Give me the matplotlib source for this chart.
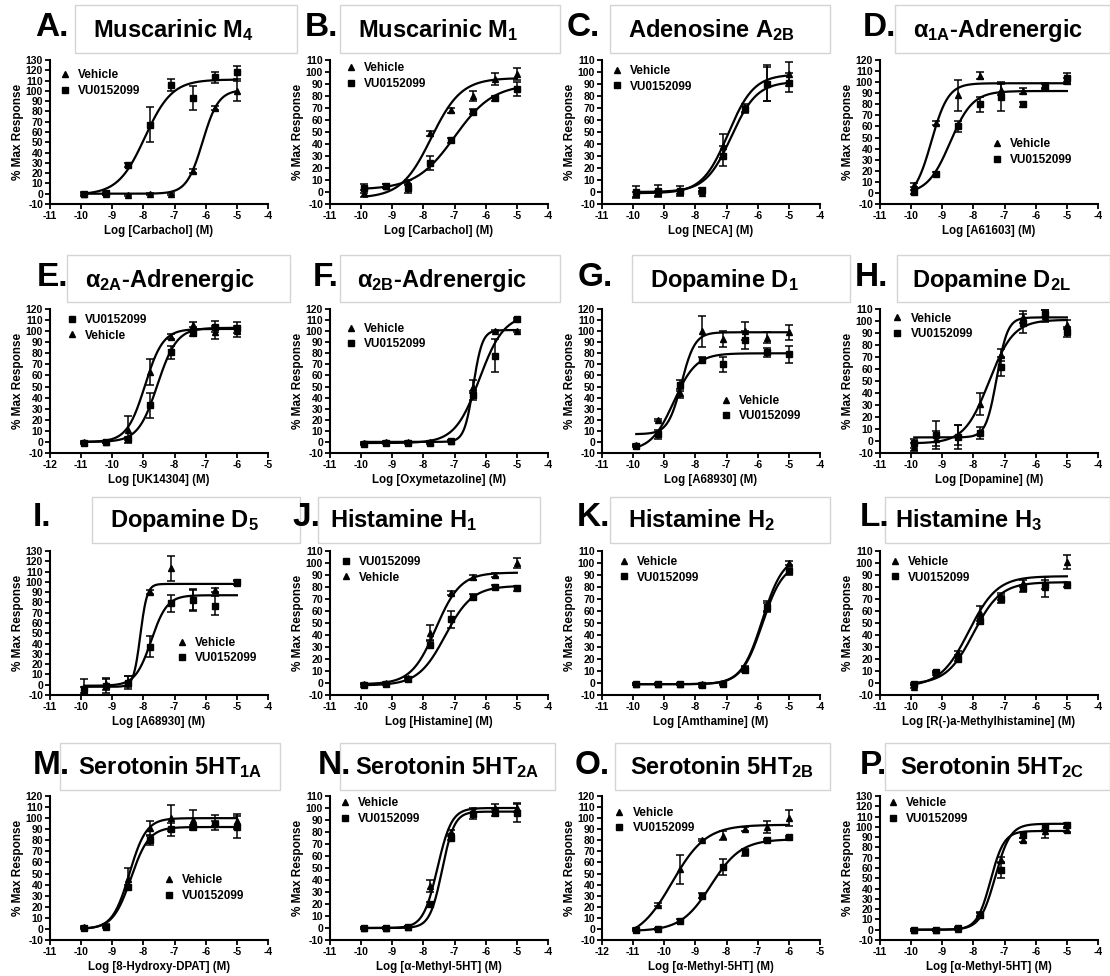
import numpy as np
import matplotlib
matplotlib.use("Agg")
import matplotlib.pyplot as plt
from matplotlib.patches import Rectangle

plt.rcParams['font.family'] = ['Liberation Sans', 'DejaVu Sans']
plt.rcParams['font.weight'] = 'bold'
plt.rcParams['axes.unicode_minus'] = False
plt.rcParams['mathtext.fontset'] = 'custom'
plt.rcParams['mathtext.rm'] = 'Liberation Sans:bold'
plt.rcParams['mathtext.bf'] = 'Liberation Sans:bold'
plt.rcParams['mathtext.it'] = 'Liberation Sans:bold'

# concentrations (log M)
x_std = [-9.9, -9.2, -8.5, -7.8, -7.1, -6.4, -5.7, -5.0]
x_low = [-10.9, -10.2, -9.5, -8.8, -8.1, -7.4, -6.7, -6.0]

# fit params: bottom, top, logEC50, hill
A_veh = [0, 0, -1, 0, 0, 22, 83, 100]
A_veh_err = [1, 1, 1, 1, 1, 2, 2, 10]
A_vu = [0, 1, 28, 67, 106, 93, 113, 118]
A_vu_err = [2, 2, 2, 17, 6, 12, 5, 6]
A_fit_veh = (0, 101, -6.1, 1.7)
A_fit_vu = (-1, 111, -7.95, 1.0)

B_veh = [-1, 5, 8, 49, 68, 80, 94, 98]
B_veh_err = [3, 2, 2, 2, 2, 4, 5, 5]
B_vu = [3, 5, 3, 24, 43, 67, 78, 86]
B_vu_err = [4, 2, 4, 6, 2, 2, 2, 6]
B_fit_veh = (-5, 95, -7.75, 0.9)
B_fit_vu = (2, 90, -7.0, 0.7)

C_veh = [-2, -1, 0, -1, 38, 70, 91, 98]
C_veh_err = [2, 2, 2, 1, 10, 3, 15, 10]
C_vu = [0, 1, 1, 2, 30, 69, 90, 91]
C_vu_err = [5, 5, 4, 1, 8, 3, 14, 8]
C_fit_veh = (-1, 98, -6.95, 1.05)
C_fit_vu = (0, 92, -6.85, 1.05)

D_veh = [7, 63, 88, 106, 93, 92, 97, 101]
D_veh_err = [2, 2, 14, 3, 5, 3, 2, 3]
D_vu = [1, 17, 60, 80, 87, 80, 96, 104]
D_vu_err = [2, 2, 5, 7, 13, 2, 2, 4]
D_fit_veh = (-6, 99, -9.35, 1.6)
D_fit_vu = (-1, 92, -8.75, 1.2)

E_veh = [0, 0, 11, 63, 95, 106, 99, 100]
E_veh_err = [1, 1, 12, 12, 2, 2, 6, 5]
E_vu = [-1, 0, 3, 33, 81, 98, 104, 103]
E_vu_err = [1, 1, 1, 11, 6, 2, 5, 5]
E_fit_veh = (0, 102, -8.95, 1.5)
E_fit_vu = (0, 103, -8.55, 1.4)

F_veh = [-1, 0, 0, 0, 1, 50, 100, 100]
F_veh_err = [1, 1, 1, 1, 1, 6, 1, 1]
F_vu = [-2, -1, -1, -1, 1, 42, 78, 111]
F_vu_err = [1, 1, 1, 1, 1, 4, 15, 1]
F_fit_veh = (0, 101, -6.4, 3.0)
F_fit_vu = (-1, 115, -6.2, 1.1)

G_veh = [-3, 20, 44, 100, 93, 100, 94, 99]
G_veh_err = [1, 1, 4, 14, 7, 8, 5, 7]
G_vu = [-4, 7, 51, 74, 70, 92, 81, 79]
G_vu_err = [1, 4, 5, 3, 7, 8, 4, 8]
G_fit_veh = (7, 99, -8.45, 2.0)
G_fit_vu = (-8, 80, -8.7, 1.2)

H_veh = [-5, 2, 5, 31, 72, 103, 104, 97]
H_veh_err = [3, 6, 8, 9, 5, 5, 5, 4]
H_vu = [-2, 5, 3, 7, 62, 98, 106, 91]
H_vu_err = [4, 12, 10, 5, 8, 8, 3, 4]
H_fit_veh = (-2, 101, -7.5, 1.1)
H_fit_vu = (3, 103, -7.25, 2.5)

I_veh = [-5, 1, 3, 90, 113, 83, 92, 99]
I_veh_err = [3, 6, 5, 2, 12, 10, 2, 2]
I_vu = [-4, -1, 2, 37, 79, 82, 77, 100]
I_vu_err = [10, 7, 6, 10, 8, 10, 9, 2]
I_fit_veh = (-2, 98, -8.1, 4.0)
I_fit_vu = (-1, 87, -7.75, 1.7)

J_veh = [-1, 0, 4, 42, 75, 88, 90, 100]
J_veh_err = [1, 1, 1, 6, 2, 2, 2, 4]
J_vu = [-2, -1, 3, 32, 53, 72, 80, 79]
J_vu_err = [1, 1, 1, 3, 7, 2, 2, 2]
J_fit_veh = (-1, 92, -7.6, 1.1)
J_fit_vu = (-2, 81, -7.3, 1.0)

K_veh = [-1, -1, -1, -1, 0, 12, 64, 100]
K_veh_err = [1, 1, 1, 1, 1, 2, 4, 2]
K_vu = [-1, -1, -1, -2, -1, 11, 63, 93]
K_vu_err = [1, 1, 1, 1, 1, 2, 4, 3]
K_fit_veh = (-1, 106, -5.85, 1.3)
K_fit_vu = (-1, 100, -5.85, 1.3)

L_veh = [-3, 8, 25, 58, 72, 83, 80, 101]
L_veh_err = [1, 1, 2, 6, 3, 3, 8, 6]
L_vu = [-1, 9, 20, 52, 70, 79, 82, 82]
L_vu_err = [1, 1, 2, 3, 3, 3, 4, 2]
L_fit_veh = (-3, 89, -8.15, 0.95)
L_fit_vu = (-1, 84, -8.0, 1.0)

M_veh = [2, 3, 45, 91, 100, 98, 96, 97]
M_veh_err = [1, 1, 10, 6, 12, 9, 7, 7]
M_vu = [1, 2, 38, 80, 90, 92, 95, 92]
M_vu_err = [1, 1, 2, 4, 6, 2, 2, 10]
M_fit_veh = (0, 100, -8.45, 1.6)
M_fit_vu = (0, 92, -8.4, 1.5)

N_veh = [0, 0, 1, 35, 80, 98, 100, 100]
N_veh_err = [1, 1, 1, 5, 2, 2, 3, 3]
N_vu = [0, 0, 1, 20, 75, 95, 96, 96]
N_vu_err = [1, 1, 1, 2, 2, 4, 3, 8]
N_fit_veh = (0, 100, -7.55, 1.9)
N_fit_vu = (0, 97, -7.4, 2.2)

O_veh = [0, 22, 54, 80, 84, 90, 92, 100]
O_veh_err = [1, 1, 13, 1, 4, 2, 5, 7]
O_vu = [-1, 0, 7, 30, 56, 69, 80, 83]
O_vu_err = [1, 1, 2, 2, 7, 3, 1, 1]
O_fit_veh = (-10, 94, -9.75, 0.8)
O_fit_vu = (-2, 81, -8.5, 0.9)

P_veh = [0, 0, 1, 15, 68, 87, 96, 97]
P_veh_err = [1, 1, 1, 2, 3, 2, 7, 2]
P_vu = [0, 0, 2, 14, 58, 92, 100, 102]
P_vu_err = [1, 1, 1, 2, 8, 3, 3, 2]
P_fit_veh = (0, 96, -7.45, 2.0)
P_fit_vu = (0, 103, -7.3, 1.8)

letters = list("ABCDEFGHIJKLMNOP")
titles = ["Muscarinic M$_\\mathbf{4}$", "Muscarinic M$_\\mathbf{1}$",
          "Adenosine A$_\\mathbf{2B}$", "α$_\\mathbf{1A}$-Adrenergic",
          "α$_\\mathbf{2A}$-Adrenergic", "α$_\\mathbf{2B}$-Adrenergic",
          "Dopamine D$_\\mathbf{1}$", "Dopamine D$_\\mathbf{2L}$",
          "Dopamine D$_\\mathbf{5}$", "Histamine H$_\\mathbf{1}$",
          "Histamine H$_\\mathbf{2}$", "Histamine H$_\\mathbf{3}$",
          "Serotonin 5HT$_\\mathbf{1A}$", "Serotonin 5HT$_\\mathbf{2A}$",
          "Serotonin 5HT$_\\mathbf{2B}$", "Serotonin 5HT$_\\mathbf{2C}$"]
xlabels = ["Log [Carbachol] (M)", "Log [Carbachol] (M)", "Log [NECA] (M)",
           "Log [A61603] (M)", "Log [UK14304] (M)", "Log [Oxymetazoline] (M)",
           "Log [A68930] (M)", "Log [Dopamine] (M)", "Log [A68930] (M)",
           "Log [Histamine] (M)", "Log [Amthamine] (M)",
           "Log [R(-)a-Methylhistamine] (M)", "Log [8-Hydroxy-DPAT] (M)",
           "Log [α-Methyl-5HT] (M)", "Log [α-Methyl-5HT] (M)",
           "Log [α-Methyl-5HT] (M)"]
ymax = [130, 110, 110, 120, 120, 120, 120, 110, 130, 110, 110, 110, 120, 110, 120, 130]
low_range = ["E", "O"]
vu_first = ["E", "J"]

g = globals()
panels = []
for L in letters:
    panels.append(dict(
        x=x_low if L in low_range else x_std,
        veh=g[L + "_veh"], veh_err=g[L + "_veh_err"],
        vu=g[L + "_vu"], vu_err=g[L + "_vu_err"],
        fit_veh=g[L + "_fit_veh"], fit_vu=g[L + "_fit_vu"]))

# ---- layout (pixels) ----
W, H = 1110, 976
col_left = [50, 330, 602, 880]
row_bottom = [204, 453, 695, 940]
ax_w, ax_h = 218, 144
row_title_y = [30, 280, 520, 767]
row_box = [(5, 53), (255, 302), (497, 543), (743, 790)]
letter_x = [35, 305, 567, 863, 37, 313, 578, 855, 33, 292, 577, 860, 33, 318, 575, 860]
title_x = [93, 358, 628, 913, 85, 357, 650, 912, 110, 330, 628, 895, 78, 355, 630, 900]
box_x = [(75, 297), (340, 560), (610, 830), (895, 1110), (67, 290), (340, 560),
         (632, 850), (897, 1110), (92, 300), (318, 540), (610, 830), (885, 1110),
         (60, 280), (340, 555), (615, 830), (885, 1110)]
leg_anchor = [(0.043, 0.935), (0.07, 0.985), (0.043, 0.965), (0.51, 0.455),
              (0.073, 0.965), (0.07, 0.905), (0.54, 0.405), (0.053, 0.975),
              (0.58, 0.405), (0.045, 0.965), (0.073, 0.965), (0.043, 0.965),
              (0.52, 0.455), (0.043, 0.99), (0.053, 0.925), (0.033, 0.99)]


def hill(xs, p):
    bottom, top, ec50, n = p
    return bottom + (top - bottom) / (1 + 10 ** ((ec50 - xs) * n))


fig = plt.figure(figsize=(W / 100, H / 100), dpi=100)

for i, p in enumerate(panels):
    r, c = divmod(i, 4)
    ax = fig.add_axes([col_left[c] / W, 1 - row_bottom[r] / H, ax_w / W, ax_h / H])
    x = np.array(p["x"])
    xs = np.linspace(x[0], x[-1], 300)

    ax.plot(xs, hill(xs, p["fit_veh"]), color="black", lw=1.6, zorder=2)
    ax.plot(xs, hill(xs, p["fit_vu"]), color="black", lw=1.6, zorder=2)
    ax.errorbar(x, p["veh"], yerr=p["veh_err"], fmt="none", ecolor="black",
                elinewidth=1.1, capsize=3, capthick=1.1, zorder=3)
    ax.errorbar(x, p["vu"], yerr=p["vu_err"], fmt="none", ecolor="black",
                elinewidth=1.1, capsize=3, capthick=1.1, zorder=3)
    h_veh, = ax.plot(x, p["veh"], "^", color="black", ms=4.8, ls="none",
                     label="Vehicle", zorder=4)
    h_vu, = ax.plot(x, p["vu"], "s", color="black", ms=4.2, ls="none",
                    label="VU0152099", zorder=4)
    handles = [h_vu, h_veh] if letters[i] in vu_first else [h_veh, h_vu]
    ax.legend(handles=handles, loc="upper left", bbox_to_anchor=leg_anchor[i],
              frameon=False, borderpad=0, borderaxespad=0, handlelength=1.0,
              handletextpad=0.6, labelspacing=0.3, prop=dict(size=8.5, weight="bold"))

    x0 = -12 if letters[i] in low_range else -11
    ax.set_xlim(x0, x0 + 7)
    ax.set_ylim(-10, ymax[i])
    ax.set_xticks(range(x0, x0 + 8))
    ax.set_yticks(range(-10, ymax[i] + 1, 10))
    for s in ["top", "right"]:
        ax.spines[s].set_visible(False)
    for s in ["left", "bottom"]:
        ax.spines[s].set_linewidth(1.5)
    ax.tick_params(direction="out", length=3.5, width=1.3, labelsize=7.5, pad=1.5)
    for lab in ax.get_xticklabels() + ax.get_yticklabels():
        lab.set_fontweight("bold")
    ax.set_xlabel(xlabels[i], fontsize=8.3, fontweight="bold", labelpad=3)
    ax.set_ylabel("% Max Response", fontsize=8.5, fontweight="bold", labelpad=1)

    bx0, bx1 = box_x[i]
    by0, by1 = row_box[r]
    fig.add_artist(Rectangle((bx0 / W, 1 - by1 / H), (bx1 - bx0) / W, (by1 - by0) / H,
                             transform=fig.transFigure, facecolor="white",
                             edgecolor="#d4d4d4", lw=1.0, zorder=1 + i * 0.01))
    fig.text(letter_x[i] / W, 1 - (row_title_y[r] - 2) / H, letters[i] + ".",
             fontsize=24, fontweight="bold", ha="left", va="center", zorder=5)
    fig.text(title_x[i] / W, 1 - row_title_y[r] / H, titles[i],
             fontsize=17, fontweight="bold", ha="left", va="center", zorder=5)

fig.savefig("out.png", dpi=100)
